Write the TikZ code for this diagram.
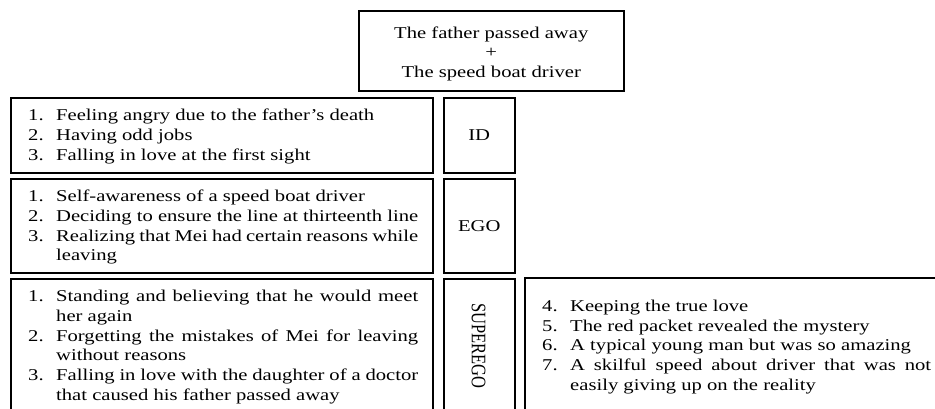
\documentclass[tikz,border=0pt]{standalone}
\usepackage{fontspec}
\setmainfont{Liberation Serif}[FakeStretch=1.25]
\newfontfamily\plainserif{Liberation Serif}
\newcommand\litem[3]{\noindent\hangindent=#1\hangafter=1\makebox[#1][l]{#2}#3\par}
\newcommand\nohyph{\hyphenpenalty=10000\relax\exhyphenpenalty=10000\relax}
\tikzset{
  box/.style={draw=black, line width=1.5pt, anchor=north west, inner sep=0pt},
  txt/.style={font=\fontsize{16.5}{19.7}\selectfont\nohyph, inner sep=0pt},
  listtxt/.style={txt, anchor=base west, align=justify},
}
\begin{document}
\begin{tikzpicture}[x=1pt,y=-1pt]
\useasboundingbox (0,0) rectangle (935,408);
\clip (0,0) rectangle (935,408);
% top box
\node[box, minimum width=265pt, minimum height=80pt] (top) at (358,10) {};
\node[txt, align=center] (toptxt) at ([yshift=-3pt]top.center) {The father passed away\\+\\The speed boat driver};
% ID row
\node[box, minimum width=422pt, minimum height=75pt] (idl) at (10,97) {};
\node[box, minimum width=71pt, minimum height=75pt] (id) at (443,97) {};
\node[txt] (idlab) at (id.center) {ID};
\node[listtxt, text width=390pt] (idtxt) at (28,120.7) {%
\litem{28pt}{1.}{Feeling angry due to the father’s death}%
\litem{28pt}{2.}{Having odd jobs}%
\litem{28pt}{3.}{Falling in love at the first sight}};
% EGO row
\node[box, minimum width=422pt, minimum height=94pt] (egol) at (10,178) {};
\node[box, minimum width=71pt, minimum height=94pt] (ego) at (443,178) {};
\node[txt] (egolab) at (ego.center) {EGO};
\node[listtxt, text width=390pt] (egotxt) at (28,201.7) {%
\litem{28pt}{1.}{Self-awareness of a speed boat driver}%
\litem{28pt}{2.}{Deciding to ensure the line at thirteenth line}%
\litem{28pt}{3.}{Realizing that Mei had certain reasons while leaving}};
% SUPEREGO row
\node[box, minimum width=422pt, minimum height=160pt] (supl) at (10,278) {};
\node[box, minimum width=71pt, minimum height=160pt] (sup) at (443,278) {};
\node[inner sep=0pt, rotate=-90] (suplab) at (478.5,346) {\scalebox{1}[1.25]{\plainserif\fontsize{16.5}{19.7}\selectfont SUPEREGO}};
\node[listtxt, text width=390pt] (suptxt) at (28,301.7) {%
\litem{28pt}{1.}{Standing and believing that he would meet her again}%
\litem{28pt}{2.}{Forgetting the mistakes of Mei for leaving without reasons}%
\litem{28pt}{3.}{Falling in love with the daughter of a doctor that caused his father passed away}};
% right box
\node[box, minimum width=440pt, minimum height=160pt] (supr) at (524,277) {};
\node[listtxt, text width=389pt] (suprtxt) at (542,311.5) {%
\litem{28pt}{4.}{Keeping the true love}%
\litem{28pt}{5.}{The red packet revealed the mystery}%
\litem{28pt}{6.}{A typical young man but was so amazing}%
\litem{28pt}{7.}{A skilful speed about driver that was not easily giving up on the reality}};
\end{tikzpicture}
\end{document}
